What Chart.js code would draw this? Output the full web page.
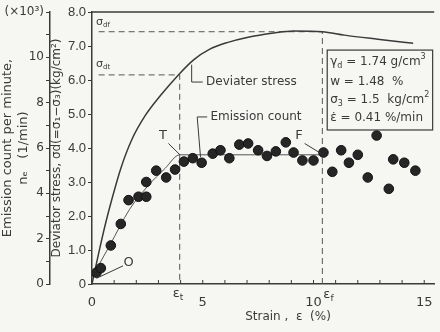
<!DOCTYPE html>
<html>
<head>
<meta charset="utf-8">
<script src="https://cdn.jsdelivr.net/npm/chart.js@4.4.1/dist/chart.umd.min.js"></script>
<style>
    html, body { margin: 0; padding: 0; background: #f6f6f3; overflow: hidden; }
    canvas { display: block; }
</style>
</head>
<body>
<canvas id="grafica" width="440" height="332"></canvas>
<script>
// curva del esfuerzo desviador (kg/cm2)
const deformacionCurva = [0, 0.3, 0.6, 0.9, 1.3, 1.8, 2.4, 3.1, 3.9, 4.6, 5.3, 6.1, 7.0, 8.2, 9.1, 10.4, 11.4, 12.9, 14.5];
const esfuerzoCurva = [0, 0.9, 1.75, 2.5, 3.4, 4.25, 4.95, 5.55, 6.15, 6.6, 6.9, 7.1, 7.25, 7.38, 7.44, 7.42, 7.32, 7.2, 7.08];

// puntos de emision (x10^3 1/min)
const deformacionPuntos = [0.2, 0.4, 0.85, 1.3, 1.65, 2.1, 2.45, 2.45, 2.9, 3.35, 3.75, 4.15, 4.55, 4.95, 5.45, 5.8, 6.2, 6.65, 7.05, 7.5, 7.9, 8.3, 8.75, 9.1, 9.5, 10.0, 10.45, 10.85, 11.25, 11.6, 12.0, 12.45, 12.85, 13.4, 13.6, 14.1, 14.6];
const emisionPuntos = [0.5, 0.7, 1.7, 2.65, 3.7, 3.85, 3.85, 4.5, 5.0, 4.7, 5.05, 5.4, 5.55, 5.35, 5.75, 5.9, 5.55, 6.15, 6.2, 5.9, 5.65, 5.85, 6.25, 5.8, 5.45, 5.45, 5.8, 4.95, 5.9, 5.35, 5.7, 4.7, 6.55, 4.2, 5.5, 5.35, 5.0];

// linea ajustada de emision
const deformacionAjuste = [0, 0.8, 1.7, 2.5, 3.3, 3.96, 10.4];
const emisionAjuste = [0.3, 1.7, 3.3, 4.3, 5.1, 5.7, 5.7];

const epsT = 3.96;
const sigmaDT = 6.15;
const epsF = 10.4;
const sigmaDF = 7.42;

const ticksX = [0, 1, 2, 3, 4, 5, 6, 7, 8, 9, 10, 11, 12, 13, 14, 15];
const etiquetasX = [0, 5, 10, 15];
const ticksEsfuerzo = [0, 1, 2, 3, 4, 5, 6, 7, 8];
const ticksEmision = [0, 1, 2, 3, 4, 5, 6, 7, 8, 9, 10, 11, 12];

const tinta = '#3a3a3a';
const fuente = '"DejaVu Sans", sans-serif';
const fuenteEstrecha = '"Liberation Sans Narrow", "Liberation Sans", sans-serif';

function pares(xs, ys) {
    return xs.map(function (x, i) { return { x: x, y: ys[i] }; });
}

function texto(ctx, partes, x, y, size) {
    let cx = x;
    partes.forEach(function (p) {
        const tipo = p[1] || 'n';
        const s = tipo === 'n' ? size : Math.round(size * 0.68);
        ctx.font = s + 'px ' + fuente;
        let dy = 0;
        if (tipo === 'sub') dy = size * 0.3;
        if (tipo === 'sup') dy = -size * 0.4;
        ctx.fillText(p[0], cx, y + dy);
        cx += ctx.measureText(p[0]).width;
    });
}

function linea(ctx, x1, y1, x2, y2) {
    ctx.beginPath();
    ctx.moveTo(x1, y1);
    ctx.lineTo(x2, y2);
    ctx.stroke();
}

const anotaciones = {
    id: 'anotaciones',
    afterDatasetsDraw: function (chart) {
        const ctx = chart.ctx;
        const a = chart.chartArea;
        const px = function (v) { return chart.scales.x.getPixelForValue(v); };
        const pS = function (v) { return chart.scales.yS.getPixelForValue(v); };
        const pE = function (v) { return chart.scales.yE.getPixelForValue(v); };

        ctx.save();
        ctx.strokeStyle = tinta;
        ctx.fillStyle = tinta;
        ctx.textBaseline = 'middle';
        ctx.textAlign = 'left';

        // borde superior
        ctx.lineWidth = 1.5;
        linea(ctx, a.left, a.top, a.right, a.top);

        // marcas del eje x hacia dentro
        ctx.lineWidth = 1;
        ticksX.forEach(function (v) {
            linea(ctx, px(v), a.bottom, px(v), a.bottom - 4);
        });

        texto(ctx, [['ε'], ['t', 'sub']], px(epsT) - 7, a.bottom + 10, 13);
        texto(ctx, [['ε'], ['f', 'sub']], px(epsF) + 1, a.bottom + 11, 13);

        texto(ctx, [['σ'], ['df', 'sub']], a.left + 4, pS(sigmaDF) - 10, 11);
        texto(ctx, [['σ'], ['dt', 'sub']], a.left + 4, pS(sigmaDT) - 11, 11);

        // O, T, F
        linea(ctx, px(0.2), pE(0.25), px(1.4), pE(0.8));
        ctx.font = '13px ' + fuente;
        ctx.textAlign = 'center';
        ctx.fillText('O', px(1.65), pE(0.93));
        linea(ctx, px(3.45), pE(6.2), px(3.95), pE(5.72));
        ctx.fillText('T', px(3.2), pE(6.55));
        linea(ctx, px(9.6), pE(6.2), px(10.35), pE(5.75));
        ctx.fillText('F', px(9.35), pE(6.55));

        // etiquetas con guia
        ctx.textAlign = 'left';
        ctx.font = '12px ' + fuente;
        ctx.beginPath();
        ctx.moveTo(px(4.5), pS(6.45));
        ctx.lineTo(px(4.5), pS(5.94));
        ctx.lineTo(px(5.0), pS(5.94));
        ctx.stroke();
        ctx.fillText('Deviater stress', px(5.15), pS(5.94));

        ctx.beginPath();
        ctx.moveTo(px(4.9), pE(5.6));
        ctx.lineTo(px(4.75), pE(7.37));
        ctx.lineTo(px(5.2), pE(7.37));
        ctx.stroke();
        ctx.fillText('Emission count', px(5.35), pE(7.37));

        // cuadro de condiciones
        const bx = px(10.62);
        const by = pS(6.88);
        ctx.lineWidth = 1.2;
        ctx.strokeRect(bx, by, px(15.38) - bx, pS(4.53) - by);
        texto(ctx, [['γ'], ['d', 'sub'], [' = 1.74 g/cm'], ['3', 'sup']], bx + 3, by + 12, 12);
        texto(ctx, [['w = 1.48  %']], bx + 3, by + 32, 12);
        texto(ctx, [['σ'], ['3', 'sub'], [' = 1.5  kg/cm'], ['2', 'sup']], bx + 3, by + 50, 12);
        texto(ctx, [['ε̇ = 0.41 %/min']], bx + 3, by + 68, 12);

        // titulo del eje x
        ctx.textAlign = 'center';
        ctx.font = '12px ' + fuente;
        ctx.fillText('Strain ,  ε  (%)', px(8.85), a.bottom + 33);

        ctx.restore();
    }
};

new Chart(document.getElementById('grafica'), {
    type: 'scatter',
    data: {
        datasets: [
            {
                label: 'Emission count',
                data: pares(deformacionPuntos, emisionPuntos),
                yAxisID: 'yE',
                pointRadius: 4.8,
                pointBackgroundColor: '#262626',
                pointBorderColor: '#111',
                pointBorderWidth: 1
            },
            {
                label: 'Ajuste',
                data: pares(deformacionAjuste, emisionAjuste),
                yAxisID: 'yE',
                showLine: true,
                cubicInterpolationMode: 'monotone',
                borderColor: '#555',
                borderWidth: 1,
                pointRadius: 0
            },
            {
                label: 'Deviator stress',
                data: pares(deformacionCurva, esfuerzoCurva),
                yAxisID: 'yS',
                showLine: true,
                cubicInterpolationMode: 'monotone',
                borderColor: tinta,
                borderWidth: 1.5,
                pointRadius: 0
            },
            {
                label: 'sigma dt',
                data: [{ x: 0.3, y: sigmaDT }, { x: epsT, y: sigmaDT }, { x: epsT, y: 0 }],
                yAxisID: 'yS',
                showLine: true,
                borderColor: '#555',
                borderWidth: 1,
                borderDash: [6, 4],
                pointRadius: 0
            },
            {
                label: 'sigma df',
                data: [{ x: 0.3, y: sigmaDF }, { x: epsF, y: sigmaDF }, { x: epsF, y: 0 }],
                yAxisID: 'yS',
                showLine: true,
                borderColor: '#555',
                borderWidth: 1,
                borderDash: [6, 4],
                pointRadius: 0
            }
        ]
    },
    options: {
        responsive: false,
        animation: false,
        devicePixelRatio: 1,
        layout: { padding: { top: 12, right: 0, left: 0, bottom: 0 } },
        plugins: {
            legend: { display: false },
            tooltip: { enabled: false }
        },
        scales: {
            x: {
                type: 'linear',
                min: 0,
                max: 15.45,
                afterBuildTicks: function (s) {
                    s.ticks = etiquetasX.map(function (v) { return { value: v }; });
                },
                afterFit: function (s) { s.height = 48; },
                border: { display: true, color: tinta, width: 1.5 },
                grid: { display: false },
                ticks: {
                    color: tinta,
                    font: { family: fuente, size: 13 },
                    padding: 3,
                    maxRotation: 0,
                    autoSkip: false
                }
            },
            yS: {
                type: 'linear',
                position: 'left',
                weight: 0,
                min: 0,
                max: 8,
                afterBuildTicks: function (s) {
                    s.ticks = ticksEsfuerzo.map(function (v) { return { value: v }; });
                },
                afterFit: function (s) { s.width = 42; },
                border: { display: true, color: tinta, width: 1.5 },
                grid: { display: true, drawOnChartArea: false, drawTicks: true, tickLength: 4, color: tinta },
                ticks: {
                    color: tinta,
                    font: { family: fuenteEstrecha, size: 13 },
                    padding: 2,
                    callback: function (v) { return v === 0 ? '0' : v.toFixed(1); }
                },
                title: {
                    display: true,
                    text: 'Deviator stress, σd(=σ₁−σ₃)(kg/cm²)',
                    color: tinta,
                    font: { family: fuente, size: 12 },
                    padding: { top: 0, bottom: 0 }
                }
            },
            yE: {
                type: 'linear',
                position: 'left',
                weight: 1,
                min: 0,
                max: 12,
                afterBuildTicks: function (s) {
                    s.ticks = ticksEmision.map(function (v) { return { value: v }; });
                },
                afterFit: function (s) { s.width = 50; },
                border: { display: true, color: tinta, width: 1.5 },
                grid: { display: true, drawOnChartArea: false, drawTicks: true, tickLength: 4, color: tinta },
                ticks: {
                    color: tinta,
                    font: { family: fuente, size: 12 },
                    padding: 2,
                    callback: function (v) {
                        if (v === 12) return '(×10³)';
                        return v % 2 === 0 ? String(v) : '';
                    }
                },
                title: {
                    display: true,
                    text: ['Emission count per minute,', 'nₑ   (1/min)'],
                    color: tinta,
                    font: { family: fuente, size: 13 },
                    padding: { top: 0, bottom: 0 }
                }
            }
        }
    },
    plugins: [anotaciones]
});
</script>
</body>
</html>
